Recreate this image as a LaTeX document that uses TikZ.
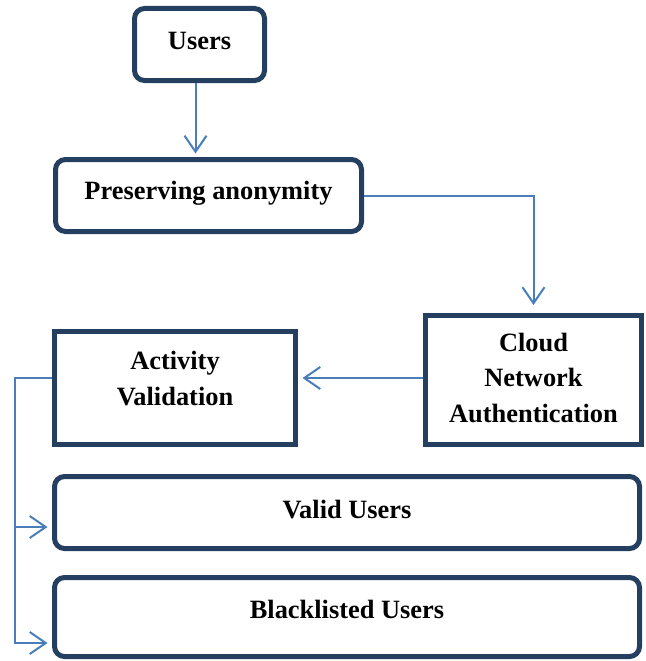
\documentclass[tikz,border=0pt]{standalone}
\usepackage{fontspec}
\setmainfont{Liberation Serif}
\usetikzlibrary{arrows.meta}
\definecolor{boxnavy}{HTML}{243F60}
\definecolor{linkblue}{HTML}{4A7EBB}
\begin{document}
\begin{tikzpicture}[x=1pt,y=-1pt,
  rbox/.style={draw=boxnavy, line width=5pt, rounded corners=10pt, inner sep=0pt},
  sqbox/.style={draw=boxnavy, line width=5pt, inner sep=0pt},
  lbl/.style={font=\bfseries\fontsize{26.4}{35.5}\selectfont, align=center, anchor=base, inner sep=0pt},
  link/.style={draw=linkblue, line width=2pt, -{Straight Barb[length=16pt,width=22pt,line width=2pt]}}]
\useasboundingbox (0,0) rectangle (645,661);

% boxes
\node[rbox, minimum width=130pt, minimum height=72pt] (users) at (199.5,44.5) {};
\node[rbox, minimum width=306pt, minimum height=72pt] (pres) at (208.5,195.5) {};
\node[sqbox, minimum width=216pt, minimum height=129pt] (cloud) at (533.5,380) {};
\node[sqbox, minimum width=241pt, minimum height=113pt] (activity) at (175,388) {};
\node[rbox, minimum width=585pt, minimum height=72pt] (valid) at (347,512.5) {};
\node[rbox, minimum width=585pt, minimum height=79pt] (black) at (347,617) {};

% labels (base anchor sits on the last line of a multi-line label)
\node[lbl] (usersT) at (199.5,49) {Users};
\node[lbl] (presT) at (208.5,199) {Preserving anonymity};
\node[lbl] (cloudT) at (533.5,422) {Cloud\\Network\\Authentication};
\node[lbl] (activityT) at (175,405) {Activity\\Validation};
\node[lbl] (validT) at (347,518) {Valid Users};
\node[lbl] (blackT) at (347,618) {Blacklisted Users};

% connectors
\draw[link, shorten >=3.5pt] ([xshift=-4pt]users.south) -- ([xshift=-4pt]users.south |- pres.north);
\draw[link, shorten >=8pt] (pres.east) -| (cloud.north);
\draw[link, shorten >=4.5pt] ([yshift=2pt]cloud.west) -- ([yshift=2pt]cloud.west -| activity.east);
\coordinate (bus) at (15,378);
\draw[link, shorten >=4.5pt] ([yshift=10pt]activity.west) -- (bus) |- ([yshift=-14.5pt]valid.west);
\draw[link, shorten >=4.5pt] (bus) |- ([yshift=-26pt]black.west);
\end{tikzpicture}
\end{document}
